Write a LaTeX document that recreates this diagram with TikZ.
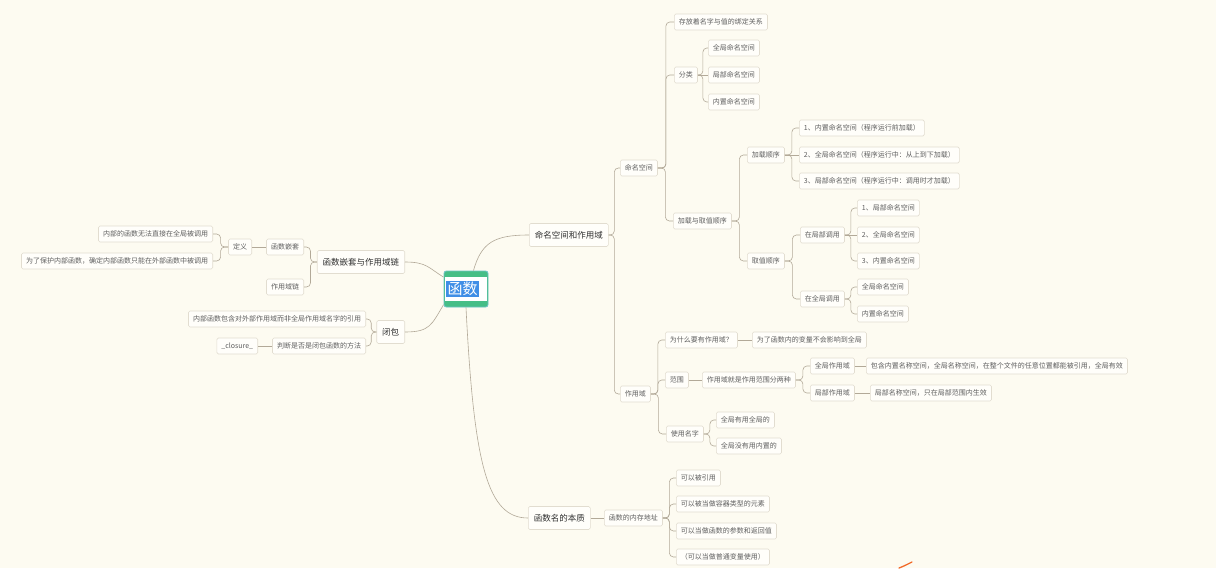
\documentclass[tikz,border=0pt]{standalone}
\usepackage{fontspec}
\setmainfont{Noto Sans CJK SC}
\usepackage{tikz}
\usepackage{xcolor}
\usetikzlibrary{calc}
\definecolor{paper}{HTML}{FDFBF1}
\definecolor{card}{HTML}{FFFEFA}
\definecolor{edge}{HTML}{E2DDD0}
\definecolor{wire}{HTML}{B2A998}
\definecolor{ink}{HTML}{5F5F5F}
\definecolor{dark}{HTML}{303030}
\definecolor{jade}{HTML}{45BE86}
\definecolor{rim}{HTML}{6CC3C4}
\definecolor{sel}{HTML}{3F8EE6}
\definecolor{flick}{HTML}{F26B2A}
\tikzset{
  leaf/.style={draw=edge, fill=card, rounded corners=1.5pt, line width=0.6pt,
               inner xsep=4.6pt, inner ysep=0pt, minimum height=16pt,
               font=\fontsize{7}{8}\selectfont, text=ink},
  topic/.style={leaf, minimum height=23pt, inner xsep=5.5pt,
                font=\fontsize{8.5}{10}\selectfont, text=dark},
  link/.style={draw=wire, line width=0.6pt, rounded corners=4pt}
}
\begin{document}
\begin{tikzpicture}[x=1pt,y=-1pt]
    \fill[paper] (0,0) rectangle (1216,568);
    \useasboundingbox (0,0) rectangle (1216,568);
    % central topic
    \node[draw=rim, fill=jade, rounded corners=2.5pt, line width=0.9pt,
          minimum width=44pt, minimum height=36pt] (fn) at (466,289) {};
    \fill[white] ($(fn.north west)+(1.2,6)$) rectangle ($(fn.south east)+(-1.2,-6)$);
    \node[fill=sel, text=white, inner xsep=1.5pt, inner ysep=1pt,
          font=\fontsize{15}{17}\selectfont] (fntxt) at (462.5,289) {函数};
    % main branches
    \node[topic, anchor=west] (ns) at (529,235) {命名空间和作用域};
    \node[topic, anchor=east] (nest) at (405,262) {函数嵌套与作用域链};
    \node[topic, anchor=east] (clo) at (405,332) {闭包};
    \node[topic, anchor=west] (ess) at (528,518) {函数名的本质};
    \draw[link] (fn.68) .. controls +(8,-28) and +(-35,0) .. (ns.west);
    \draw[link] (fn.152) .. controls +(-15,-9) and +(22,0) .. (nest.east);
    \draw[link] (fn.215) .. controls +(-12,20) and +(25,0) .. (clo.east);
    \draw[link] (fn.south) .. controls +(8,160) and +(-40,0) .. (ess.west);
    % namespace
    \node[leaf, anchor=west] (mk) at (620,168) {命名空间};
    \node[leaf, anchor=west] (bind) at (674,22) {存放着名字与值的绑定关系};
    \node[leaf, anchor=west] (cls) at (674,75) {分类};
    \node[leaf, anchor=west] (g1) at (708,48) {全局命名空间};
    \node[leaf, anchor=west] (l1) at (708,75) {局部命名空间};
    \node[leaf, anchor=west] (b1) at (708,102) {内置命名空间};
    \node[leaf, anchor=west] (load) at (673,221) {加载与取值顺序};
    \node[leaf, anchor=west] (lorder) at (747,155) {加载顺序};
    \node[leaf, anchor=west] (lo1) at (799,128) {1、内置命名空间（程序运行前加载）};
    \node[leaf, anchor=west] (lo2) at (799,155) {2、全局命名空间（程序运行中：从上到下加载）};
    \node[leaf, anchor=west] (lo3) at (799,181) {3、局部命名空间（程序运行中：调用时才加载）};
    \node[leaf, anchor=west] (gorder) at (747,261) {取值顺序};
    \node[leaf, anchor=west] (inl) at (800,235) {在局部调用};
    \node[leaf, anchor=west] (il1) at (857,208) {1、局部命名空间};
    \node[leaf, anchor=west] (il2) at (857,235) {2、全局命名空间};
    \node[leaf, anchor=west] (il3) at (857,261) {3、内置命名空间};
    \node[leaf, anchor=west] (ing) at (800,299) {在全局调用};
    \node[leaf, anchor=west] (ig1) at (857,287) {全局命名空间};
    \node[leaf, anchor=west] (ig2) at (857,314) {内置命名空间};
    % scope
    \node[leaf, anchor=west] (scope) at (620,394) {作用域};
    \node[leaf, anchor=west] (why) at (665,340) {为什么要有作用域？};
    \node[leaf, anchor=west] (why1) at (752,340) {为了函数内的变量不会影响到全局};
    \node[leaf, anchor=west] (rng) at (665,380) {范围};
    \node[leaf, anchor=west] (two) at (702,380) {作用域就是作用范围分两种};
    \node[leaf, anchor=west] (gs) at (810,366) {全局作用域};
    \node[leaf, anchor=west] (gs1) at (866,366) {包含内置名称空间，全局名称空间，在整个文件的任意位置都能被引用，全局有效};
    \node[leaf, anchor=west] (ls) at (810,393) {局部作用域};
    \node[leaf, anchor=west] (ls1) at (870,393) {局部名称空间，只在局部范围内生效};
    \node[leaf, anchor=west] (use) at (666,434) {使用名字};
    \node[leaf, anchor=west] (use1) at (716,420) {全局有用全局的};
    \node[leaf, anchor=west] (use2) at (716,446) {全局没有用内置的};
    % function name
    \node[leaf, anchor=west] (addr) at (604,518) {函数的内存地址};
    \node[leaf, anchor=west] (a1) at (676,478) {可以被引用};
    \node[leaf, anchor=west] (a2) at (676,504) {可以被当做容器类型的元素};
    \node[leaf, anchor=west] (a3) at (676,531) {可以当做函数的参数和返回值};
    \node[leaf, anchor=west] (a4) at (676,557) {（可以当做普通变量使用）};
    % nesting and closure
    \node[leaf, anchor=east] (fnest) at (304,247) {函数嵌套};
    \node[leaf, anchor=east] (def) at (252,247) {定义};
    \node[leaf, anchor=east] (d1) at (213,234) {内部的函数无法直接在全局被调用};
    \node[leaf, anchor=east] (d2) at (213,261) {为了保护内部函数，确定内部函数只能在外部函数中被调用};
    \node[leaf, anchor=east] (chain) at (304,287) {作用域链};
    \node[leaf, anchor=east] (c1) at (366,319) {内部函数包含对外部作用域而非全局作用域名字的引用};
    \node[leaf, anchor=east] (c2) at (366,346) {判断是否是闭包函数的方法};
    \node[leaf, anchor=east] (c3) at (258,346) {\_closure\_};
    % connectors
    \foreach \p/\c in {ns/mk, ns/scope, mk/bind, mk/cls, mk/load, cls/g1, cls/b1,
        load/lorder, load/gorder, lorder/lo1, lorder/lo3, gorder/inl, gorder/ing,
        inl/il1, inl/il3, ing/ig1, ing/ig2, scope/why, scope/rng, scope/use,
        two/gs, two/ls, use/use1, use/use2, addr/a1, addr/a2, addr/a3, addr/a4} {
      \draw[link] (\p.east) -- ($(\p.east)!.5!(\p.east-|\c.west)$) |- (\c.west);
    }
    \foreach \p/\c in {cls/l1, lorder/lo2, inl/il2, why/why1, rng/two, gs/gs1, ls/ls1, ess/addr} {
      \draw[link] (\p.east) -- (\c.west);
    }
    \foreach \p/\c in {nest/fnest, nest/chain, def/d1, def/d2, clo/c1, clo/c2} {
      \draw[link] (\p.west) -- ($(\p.west)!.5!(\p.west-|\c.east)$) |- (\c.east);
    }
    \foreach \p/\c in {fnest/def, c2/c3} {
      \draw[link] (\p.west) -- (\c.east);
    }
    \draw[flick, line width=1.3pt, line cap=round] (899,568) .. controls (904,566) .. (912,562);
  \end{tikzpicture}
\end{document}
